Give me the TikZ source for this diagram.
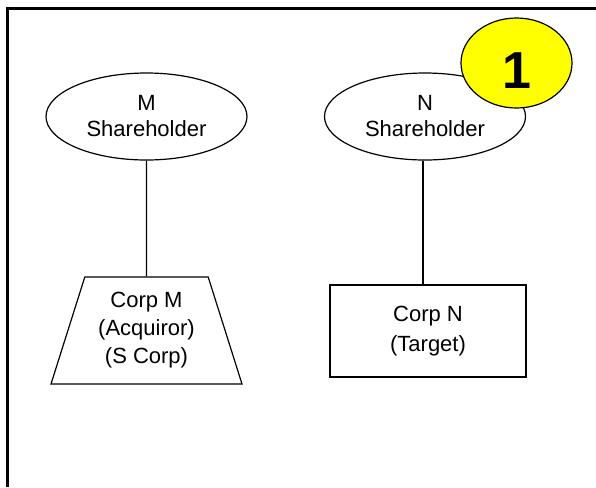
\documentclass[tikz,border=0pt]{standalone}
\usepackage{fontspec}
\setmainfont{Liberation Sans}
\usepackage{tikz}
\usetikzlibrary{shapes.geometric, positioning}
\definecolor{stepyellow}{RGB}{255,255,0}

\begin{document}
\begin{tikzpicture}[
    x=0.75pt, y=-0.75pt,
    holder/.style={ellipse, draw, line width=0.9pt, minimum width=150.75pt, minimum height=65.25pt, inner sep=0pt, align=center, font=\fontsize{16.5}{19.5}\selectfont},
    corp/.style={rectangle, draw, line width=0.9pt, minimum width=147pt, minimum height=69pt, inner sep=0pt, align=center, font=\fontsize{16.5}{22.5}\selectfont},
    scorp/.style={trapezium, trapezium angle=66, trapezium stretches body, draw, line width=0.9pt, minimum width=143.25pt, minimum height=80.25pt, inner sep=0pt, align=center, font=\fontsize{16.5}{21}\selectfont},
    badge/.style={ellipse, draw, line width=0.9pt, fill=stepyellow, minimum width=83.25pt, minimum height=67.5pt, inner sep=0pt, text height=28pt, text depth=0pt, font=\fontsize{39}{39}\selectfont\bfseries},
    link/.style={line width=0.9pt}
]
    \useasboundingbox (0,0) rectangle (596,487);

    % Frame
    \draw[line width=2.25pt] (7.5,487) -- (7.5,8.5) -- (596,8.5);

    % Shareholders
    \node[holder] (msh) at (146.5,116.5) {M\\Shareholder};
    \node[holder] (nsh) at (425,116.5) {N\\Shareholder};

    % Corporations
    \node[scorp] (corpm) at (146.5,330.5) {Corp M\\(Acquiror)\\(S Corp)};
    \node[corp] (corpn) at (428,331) {Corp N\\(Target)};

    % Step number
    \node[badge] (stepone) at (516.5,63) {\raisebox{-5pt}{1}};

    % Ownership lines
    \draw[link] (msh.south) -- (corpm.north);
    \draw[link] ([xshift=-1.5pt]nsh.south) -- ([xshift=-1.5pt]nsh.south |- corpn.north);
\end{tikzpicture}
\end{document}
